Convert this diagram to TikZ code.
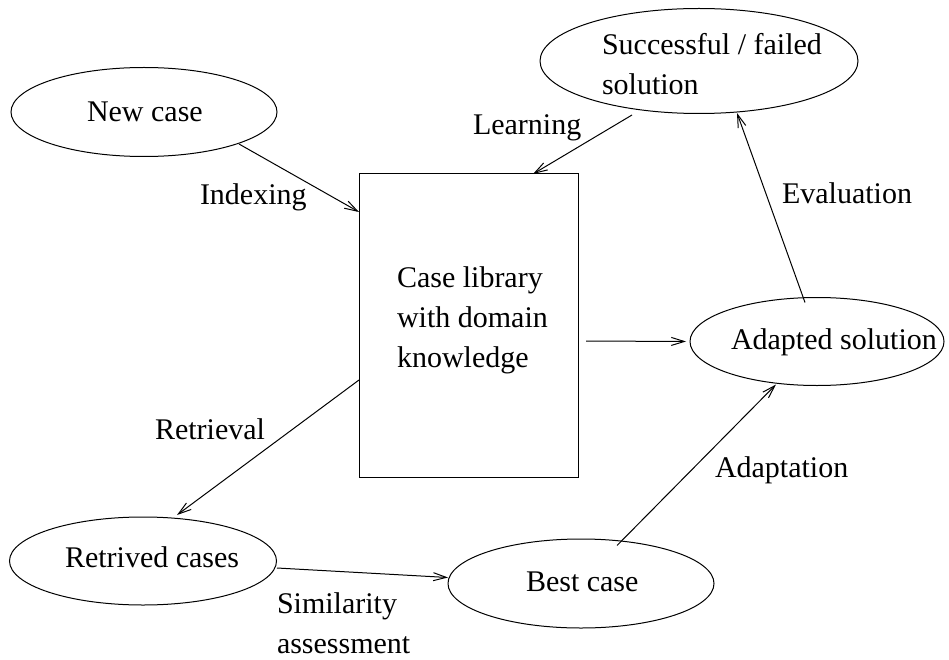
\documentclass[tikz,border=0pt]{standalone}
\usepackage{fontspec}
\setmainfont{Liberation Serif}
\usetikzlibrary{arrows.meta,calc,shapes.geometric}
\begin{document}
\begin{tikzpicture}[x=1pt,y=-1pt,
  line width=1pt,
  ell/.style={draw,ellipse,inner sep=0pt,outer sep=0pt},
  txt/.style={inner sep=0pt,outer sep=0pt,font=\fontsize{30pt}{40pt}\selectfont},
  multi/.style={txt,align=left,anchor=north west},
  one/.style={txt,anchor=base west},
  arr/.style={-{Straight Barb[length=13pt,width=8pt]}}]
\useasboundingbox (0,0) rectangle (949,660);
% shapes
\node[ell,minimum width=266pt,minimum height=89pt] (newcase) at (144,112) {};
\node[ell,minimum width=318pt,minimum height=105pt] (succ) at (699,61) {};
\node[ell,minimum width=254pt,minimum height=88pt] (adapted) at (817,341.5) {};
\node[ell,minimum width=267pt,minimum height=88pt] (retrieved) at (143,561) {};
\node[ell,minimum width=266pt,minimum height=89pt] (best) at (581,583.5) {};
\node[draw,inner sep=0pt,outer sep=0pt,minimum width=219pt,minimum height=303pt] (lib) at (468.5,325.5) {};
% texts in shapes
\node[one] (newcaseT) at (87,122) {New case};
\node[multi] (succT) at (602,33.5) {Successful / failed\\solution};
\node[one] (adaptedT) at (731,349) {Adapted solution};
\node[one] (retrievedT) at (65,567) {Retrived cases};
\node[one] (bestT) at (526,591) {Best case};
\node[multi] (libT) at (397,266.5) {Case library\\with domain\\knowledge};
% connector labels
\node[one] (indexing) at (200,205) {Indexing};
\node[one] (learning) at (473,135) {Learning};
\node[one] (evaluation) at (782,204) {Evaluation};
\node[one] (retrieval) at (155,439) {Retrieval};
\node[one] (adaptation) at (715,477) {Adaptation};
\node[multi] (similarity) at (277,592.5) {Similarity\\assessment};
% connectors
\draw[arr] ($(newcase.center)+(95,32)$) -- ($(lib.north west)+(0,38)$);
\draw[arr] ($(succ.center)+(-67,54)$) -- ($(lib.north west)+(174,0)$);
\draw[arr] ($(adapted.center)+(-12,-39)$) -- ($(succ.center)+(38,52)$);
\draw[arr] ($(lib.north east)+(8,167)$) -- ($(adapted.west)+(-4,0)$);
\draw[arr] ($(lib.north west)+(0,206)$) -- ($(retrieved.center)+(34,-46)$);
\draw[arr] ($(retrieved.center)+(134,7)$) -- ($(best.center)+(-133,-6)$);
\draw[arr] ($(best.center)+(36,-38)$) -- ($(adapted.center)+(-41,43)$);
\end{tikzpicture}
\end{document}
